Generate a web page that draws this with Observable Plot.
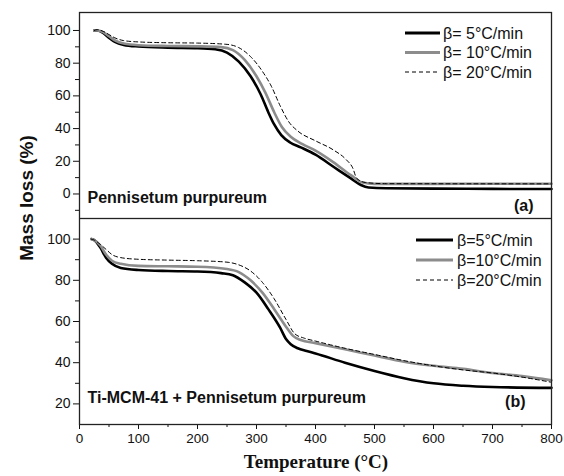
<!DOCTYPE html>
<html><head><meta charset="utf-8">
<script src="https://cdn.jsdelivr.net/npm/d3@7"></script>
<script src="https://cdn.jsdelivr.net/npm/@observablehq/plot@0.6"></script>
<style>
body{margin:0;background:#fff;font-family:"Liberation Sans",Arial,sans-serif;}
#wrap{position:relative;width:564px;height:476px;}
#wrap > svg{position:absolute;left:0;}
</style></head><body><div id="wrap"></div>
<script>
// ---- data (temperature °C, mass %) ----
const seriesNames = ["5", "10", "20"];
const legendA = ["β= 5°C/min", "β= 10°C/min", "β= 20°C/min"];
const legendB = ["β=5°C/min", "β=10°C/min", "β=20°C/min"];

// Panel (a): Pennisetum purpureum
const a5 = [[25,100],[30,100],[40,98.5],[50,95.5],[60,93],[75,91.2],[100,90.2],[150,89.5],[200,89.2],[230,88.5],[250,86.5],[270,81],[290,72],[307,61],[320,50],[330,42.5],[342,36],[357,31.5],[375,28.5],[400,24],[431,16.5],[460,9.5],[477,5.5],[490,4],[520,3.5],[600,3.3],[700,3.1],[800,3]];
const a10 = [[25,100],[30,100],[40,99],[50,96.5],[60,94],[75,92],[100,91],[150,90.5],[200,90.3],[240,89.8],[260,88],[280,82],[300,72],[315,62],[330,50],[343,41],[358,35],[378,30.5],[400,26.5],[430,19.5],[460,11.5],[480,7],[500,6.2],[600,6.2],[700,6.3],[800,6.3]];
const a20 = [[25,100],[30,100.5],[40,99.5],[50,97.5],[60,95.5],[75,93.8],[100,93],[150,92.5],[200,92.3],[250,91.5],[270,89.5],[290,84],[310,75],[325,66],[340,54],[355,44],[370,38.5],[400,32.5],[430,27],[452,21],[463,16],[470,9.5],[485,7],[520,6.3],[800,6.2]];

// Panel (b): Ti-MCM-41 + Pennisetum purpureum
const b5 = [[20,100],[25,99.5],[35,96],[45,91],[55,88],[70,86],[100,85],[150,84.5],[200,84.3],[240,83.5],[260,82.5],[280,79],[300,74],[320,66],[340,57],[350,51.5],[358,49],[370,47],[385,45.7],[400,44.5],[450,40],[500,36],[550,32.5],[600,30],[650,28.8],[700,28.2],[800,27.8]];
const b10 = [[20,100],[25,99.5],[35,97],[45,92.5],[55,89.5],[70,88],[100,87],[150,86.8],[200,86.6],[250,85.5],[270,84],[290,80],[310,74],[330,66],[350,57.5],[362,53],[375,51],[400,49.5],[450,46.5],[500,43.5],[550,40.5],[600,38.5],[650,37],[700,35],[750,33.5],[800,31.5]];
const b20 = [[20,100],[25,99.5],[35,97.5],[45,95],[55,92.5],[70,91],[100,90.2],[150,89.8],[200,89.5],[250,88.8],[270,87.5],[290,84.5],[310,79],[330,71],[350,61],[365,54],[380,52],[400,50.5],[450,47],[500,44],[550,41],[600,38.5],[650,36.5],[700,35],[750,33],[800,30.5]];

const xTicks = [0,100,200,300,400,500,600,700,800];
const xMinor = [50,150,250,350,450,550,650,750];
const yTicksA = [0,20,40,60,80,100];
const yMinorA = [-10,10,30,50,70,90];
const yTicksB = [20,40,60,80,100];
const yMinorB = [30,50,70,90];

// ---- styles ----
const styles = {
  "5": {stroke:"#000", strokeWidth:2.6},
  "10": {stroke:"#8c8c8c", strokeWidth:2.6},
  "20": {stroke:"#000", strokeWidth:1, strokeDasharray:"4,3"}
};
const font = "'Liberation Sans', Arial, sans-serif";

function rows(arr){ return arr.map(([T,m]) => ({T, m})); }
function lineMarks(sets){
  return sets.map((arr,i) => Plot.line(rows(arr), {x:"T", y:"m", curve:"monotone-x", ...styles[seriesNames[i]]}));
}

const W = 564, L = 79, R = 13;
const plotA = Plot.plot({
  width: W, height: 218, marginTop: 12, marginBottom: 0, marginLeft: L, marginRight: R,
  style: {fontFamily: font, fontSize: "14px", color: "#111", background: "transparent"},
  x: {domain: [0, 800], axis: null},
  y: {domain: [-15, 111], axis: null},
  marks: [
    Plot.axisY({ticks: yTicksA, tickSize: 6, tickPadding: 3, label: null, fontSize: 14}),
    Plot.axisY({ticks: yMinorA, tickSize: 4, tickFormat: () => "", label: null}),
    ...lineMarks([a5, a10, a20]),
    Plot.frame({stroke: "#222", strokeWidth: 1.3}),
    Plot.text(["Pennisetum purpureum"], {frameAnchor: "bottom-left", textAnchor: "start", dx: 8, dy: -16, fontWeight: "bold", fontSize: 16, fill: "#111"}),
    Plot.text(["(a)"], {frameAnchor: "bottom-right", textAnchor: "end", dx: -18, dy: -8, fontWeight: "bold", fontSize: 16, fill: "#111"})
  ]
});
plotA.style.top = "0px";

const plotB = Plot.plot({
  width: W, height: 258, marginTop: 0, marginBottom: 52, marginLeft: L, marginRight: R,
  style: {fontFamily: font, fontSize: "14px", color: "#111", background: "transparent"},
  x: {domain: [0, 800], axis: null},
  y: {domain: [10, 110], axis: null},
  marks: [
    Plot.axisY({ticks: yTicksB, tickSize: 6, tickPadding: 3, label: null, fontSize: 14}),
    Plot.axisY({ticks: yMinorB, tickSize: 4, tickFormat: () => "", label: null}),
    Plot.axisX({ticks: xTicks, tickSize: 5, tickPadding: 4, label: null, fontSize: 13.5}),
    Plot.axisX({ticks: xMinor, tickSize: 3, tickFormat: () => "", label: null}),
    ...lineMarks([b5, b10, b20]),
    Plot.frame({stroke: "#222", strokeWidth: 1.3}),
    Plot.text(["Ti-MCM-41 + Pennisetum purpureum"], {frameAnchor: "bottom-left", textAnchor: "start", dx: 8, dy: -22, fontWeight: "bold", fontSize: 16, fill: "#111"}),
    Plot.text(["(b)"], {frameAnchor: "bottom-right", textAnchor: "end", dx: -26, dy: -18, fontWeight: "bold", fontSize: 16, fill: "#111"})
  ]
});
plotB.style.top = "218px";

const wrap = document.getElementById("wrap");
wrap.appendChild(plotA);
wrap.appendChild(plotB);

// ---- overlay: axis titles and legends ----
const ov = d3.select(wrap).append("svg").attr("width", W).attr("height", 476)
  .style("position","absolute").style("top","0px").style("left","0px").style("pointer-events","none");
ov.append("text").attr("transform","translate(33,198) rotate(-90)").attr("text-anchor","middle")
  .attr("font-family", font).attr("font-weight","bold").attr("font-size",19).attr("fill","#111").text("Mass loss (%)");
ov.append("text").attr("x",316).attr("y",468).attr("text-anchor","middle")
  .attr("font-family","'Liberation Serif','Times New Roman',serif").attr("font-weight","bold").attr("font-size",19).attr("fill","#111").text("Temperature (°C)");

function legend(labels, x1, x2, tx, y0, dy){
  labels.forEach((lab,i) => {
    const s = styles[seriesNames[i]];
    const y = y0 + i*dy;
    ov.append("line").attr("x1",x1).attr("x2",x2).attr("y1",y).attr("y2",y)
      .attr("stroke",s.stroke).attr("stroke-width", i===2 ? 1 : 3).attr("stroke-dasharray", s.strokeDasharray || null);
    ov.append("text").attr("x",tx).attr("y",y).attr("dy","0.35em").attr("font-family",font)
      .attr("font-size",16).attr("fill","#111").text(lab);
  });
}
legend(legendA, 405, 440, 443, 33, 19.5);
legend(legendB, 416, 453, 457, 240, 20);
</script></body></html>
